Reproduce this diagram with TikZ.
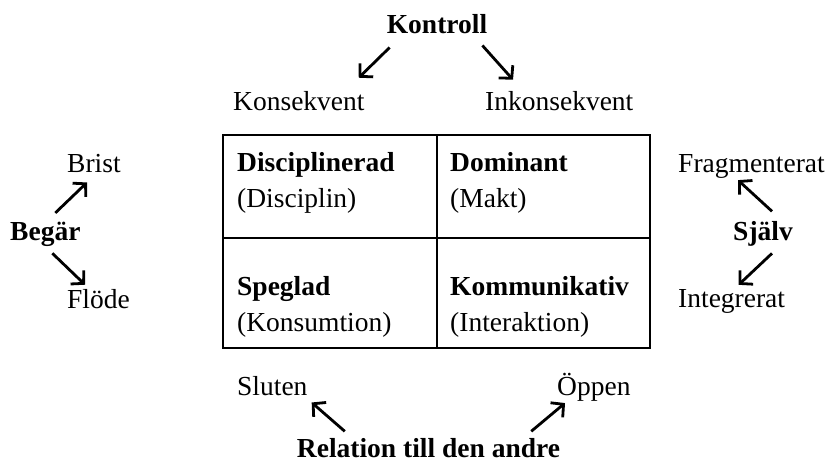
\documentclass[tikz,border=0pt]{standalone}
\usepackage{fontspec}
\setmainfont{Liberation Serif}
\usetikzlibrary{arrows.meta}
\tikzset{
  lbl/.style={inner sep=0pt, font=\fontsize{27.5}{36}\selectfont},
  hdr/.style={inner sep=0pt, font=\fontsize{27.5}{36}\selectfont\bfseries},
  arr/.style={line width=2.8pt, -{Straight Barb[length=9pt,width=19pt]}},
}
\begin{document}
\begin{tikzpicture}[x=1pt,y=-1pt]
      \useasboundingbox (0,0) rectangle (829,466);
      % the four-field table
      \draw[line width=2pt] (223,135) rectangle (650,348);
      \draw[line width=2pt] (437,135) -- (437,348);
      \draw[line width=2pt] (223,238) -- (650,238);
      \draw
        (237,171) node[hdr, anchor=base west] (disc){Disciplinerad}
        (237,207) node[lbl, anchor=base west] (disc2){(Disciplin)}
        (450,171) node[hdr, anchor=base west] (dom){Dominant}
        (450,207) node[lbl, anchor=base west] (dom2){(Makt)}
        (237,295) node[hdr, anchor=base west] (speg){Speglad}
        (237,331) node[lbl, anchor=base west] (speg2){(Konsumtion)}
        (450,295) node[hdr, anchor=base west] (komm){Kommunikativ}
        (450,331) node[lbl, anchor=base west] (komm2){(Interaktion)};
      % labels round the table
      \draw
        (437,33) node[hdr, anchor=base] (kontroll){Kontroll}
        (233,110) node[lbl, anchor=base west] (konsekvent){Konsekvent}
        (485,110) node[lbl, anchor=base west] (inkonsekvent){Inkonsekvent}
        (10,240) node[hdr, anchor=base west] (begar){Begär}
        (67,172) node[lbl, anchor=base west] (brist){Brist}
        (67,308) node[lbl, anchor=base west] (flode){Flöde}
        (733,240) node[hdr, anchor=base west] (sjalv){Själv}
        (678,172) node[lbl, anchor=base west] (fragment){Fragmenterat}
        (678,307) node[lbl, anchor=base west] (integrerat){Integrerat}
        (428.5,457) node[hdr, anchor=base] (relation){Relation till den andre}
        (237,395) node[lbl, anchor=base west] (sluten){Sluten}
        (557,395) node[lbl, anchor=base west] (oppen){Öppen};
      \begin{scope}[arr]
        \draw ([shift={(3,14)}]kontroll.south west) to ([shift={(-6,-13)}]konsekvent.north east);
        \draw ([shift={(-5,12)}]kontroll.south east) to ([shift={(28,-11)}]inkonsekvent.north west);
        \draw ([shift={(10,-8.5)}]begar.north) to ([shift={(20,10)}]brist.south west);
        \draw ([shift={(7,7)}]begar.south) to ([shift={(18,-4)}]flode.north west);
        \draw ([shift={(9,-9.4)}]sjalv.north) to ([shift={(-13.5,2)}]fragment.south);
        \draw ([shift={(9,7.3)}]sjalv.south) to ([shift={(7,-4)}]integrerat.north);
        \draw ([shift={(48,-6.4)}]relation.north west) to ([shift={(4,7)}]sluten.south east);
        \draw ([shift={(-29,-6.4)}]relation.north east) to ([shift={(8,2)}]oppen.south west);
      \end{scope}
    \end{tikzpicture}
\end{document}
